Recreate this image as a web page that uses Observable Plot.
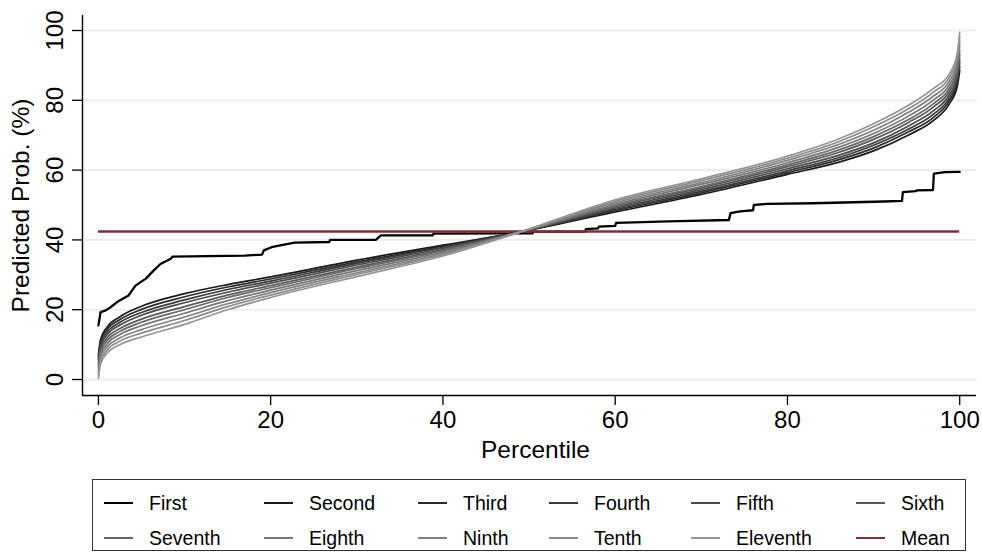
<!DOCTYPE html>
<html><head><meta charset="utf-8">
<script src="https://cdn.jsdelivr.net/npm/d3@7"></script>
<script src="https://cdn.jsdelivr.net/npm/@observablehq/plot@0.6"></script>
<style>
body{margin:0;background:#fff;font-family:"Liberation Sans",Arial,Helvetica,sans-serif;}
#wrap{position:relative;width:982px;height:559px;overflow:hidden;}
#legend{position:absolute;left:92px;top:479px;width:874px;height:72px;border:1.4px solid #333;box-sizing:border-box;}
.item{position:absolute;height:24px;display:flex;align-items:center;font-size:19.5px;line-height:24px;color:#000;white-space:nowrap;}
.swatch{width:29px;height:0;border-top:2px solid;margin-right:16px;}
</style></head>
<body><div id="wrap"><div id="chart"></div><div id="legend"></div></div>
<script>
// ---- data ----
const xTicks = [0, 20, 40, 60, 80, 100];
const yTicks = [0, 20, 40, 60, 80, 100];
const seriesNames = ["First","Second","Third","Fourth","Fifth","Sixth","Seventh","Eighth","Ninth","Tenth","Eleventh","Mean"];

const firstPct = [0,0.25,0.85,1.4,2.4,3.5,4.3,5.5,6.4,7.2,8.4,8.6,17.0,19.0,19.2,20.1,21.4,22.8,26.8,26.9,32.2,32.8,38.8,38.9,50.4,50.5,56.5,56.6,58.0,58.1,60.0,60.1,66.2,73.2,73.4,74.5,76.0,76.1,77.6,83.0,91.2,93.3,93.4,94.9,95.0,96.9,97.0,98.3,100];
const firstVal = [15.5,19.3,19.8,20.7,22.6,24.1,26.9,28.9,31.2,33.1,34.6,35.2,35.5,35.8,37.0,37.9,38.6,39.2,39.4,40.0,40.0,41.3,41.3,41.8,41.9,42.4,42.4,43.1,43.3,43.8,44.0,44.9,45.3,45.7,47.7,48.2,48.5,50.0,50.3,50.5,51.0,51.2,53.7,54.0,54.2,54.3,59.0,59.4,59.5];

const pct = [0,0.25,1,2.5,5,10,15,20,30,40,49,60,70,80,86,90,94,97,98.8,99.7,100];
const second   = [7.0,11.5,15.0,18.0,21.0,24.6,27.2,29.4,34.2,38.5,42.3,48.0,53.0,58.8,62.3,65.5,70.0,74.3,79.0,83.8,88.5];
const third    = [6.3,10.8,14.3,17.2,20.1,23.7,26.5,28.8,33.7,38.2,42.3,48.4,53.5,59.3,63.0,66.3,70.9,75.2,79.9,84.8,89.6];
const fourth   = [5.7,10.1,13.5,16.4,19.2,22.8,25.8,28.2,33.3,37.9,42.3,48.7,53.9,59.8,63.6,67.1,71.7,76.1,80.7,85.7,90.7];
const fifth    = [5.0,9.4,12.8,15.6,18.4,22.0,25.0,27.6,32.8,37.6,42.3,49.1,54.4,60.4,64.3,67.8,72.6,77.1,81.6,86.7,91.8];
const sixth    = [4.2,8.6,11.9,14.6,17.3,20.9,24.2,26.9,32.2,37.2,42.3,49.5,54.9,61.0,65.1,68.8,73.6,78.2,82.6,87.8,93.1];
const seventh  = [3.5,7.9,11.1,13.8,16.4,20.0,23.5,26.3,31.8,36.9,42.3,49.8,55.3,61.5,65.8,69.6,74.4,79.1,83.5,88.7,94.2];
const eighth   = [2.7,7.0,10.2,12.9,15.4,19.0,22.6,25.6,31.2,36.5,42.3,50.2,55.9,62.1,66.6,70.5,75.4,80.2,84.5,89.9,95.5];
const ninth    = [1.9,6.2,9.3,11.9,14.3,17.9,21.7,24.9,30.6,36.1,42.3,50.7,56.4,62.8,67.4,71.4,76.5,81.3,85.5,91.0,96.9];
const tenth    = [1.1,5.3,8.4,11.0,13.3,16.9,20.9,24.2,30.1,35.8,42.3,51.1,57.0,63.4,68.2,72.4,77.5,82.4,86.6,92.2,98.2];
const eleventh = [0.3,4.5,7.5,10.0,12.2,15.8,20.0,23.5,29.5,35.4,42.3,51.5,57.5,64.0,69.0,73.3,78.5,83.5,87.6,93.3,99.5];
const meanValue = 42.4;

// ---- styles ----
const palette = ["#000000","#1a1a1a","#2b2b2b","#3a3a3a","#4a4a4a","#5a5a5a","#686868","#767676","#828282","#8c8c8c","#969696","#8c2a33"];
const font = '"Liberation Sans", Arial, Helvetica, sans-serif';

const grayCurves = [second, third, fourth, fifth, sixth, seventh, eighth, ninth, tenth, eleventh];
const firstRows = firstPct.map((p, i) => ({p, v: firstVal[i]}));
const xDomain = [-1.85, 101.95];
const yDomain = [-4.58, 104.3];

const grayMarks = grayCurves.map((vals, k) =>
  Plot.line(pct.map((p, i) => ({p, v: vals[i]})), {x: "p", y: "v", stroke: palette[k + 1], strokeWidth: 1.7, curve: "monotone-x"})
);

const chart = Plot.plot({
  width: 982, height: 470,
  marginLeft: 82, marginRight: 6, marginTop: 15, marginBottom: 75,
  x: {domain: xDomain},
  y: {domain: yDomain},
  style: {fontFamily: font, color: "#000", background: "#fff", overflow: "visible"},
  marks: [
    Plot.gridY(yTicks, {stroke: "#e4eef2", strokeOpacity: 1, strokeWidth: 1.6}),
    Plot.axisY(yTicks, {tickSize: 10, tickRotate: -90, tickPadding: 10, fontSize: 24, label: null, strokeWidth: 1.3}),
    Plot.axisX(xTicks, {tickSize: 10, tickPadding: 5, fontSize: 24, label: null, strokeWidth: 1.3}),
    Plot.ruleX([xDomain[0]], {stroke: "#000", strokeWidth: 1.4}),
    Plot.ruleY([yDomain[0]], {stroke: "#000", strokeWidth: 1.4}),
    Plot.text(["Predicted Prob. (%)"], {text: d => d, frameAnchor: "left", rotate: -90, dx: -61, fontSize: 24.5, lineAnchor: "middle", textAnchor: "middle"}),
    Plot.text(["Percentile"], {text: d => d, frameAnchor: "bottom", dx: 6, dy: 55, fontSize: 24.5, lineAnchor: "middle", textAnchor: "middle"}),
    Plot.line(firstRows, {x: "p", y: "v", stroke: palette[0], strokeWidth: 2.3}),
    Plot.ruleY([meanValue], {x1: pct[0], x2: pct[pct.length - 1], stroke: palette[11], strokeWidth: 2.4}),
    ...grayMarks
  ]
});
document.getElementById("chart").appendChild(chart);

// ---- legend ----
const legendCols = [11, 171, 325, 456, 598, 763];
const legendRows = [11, 46];
const legend = document.getElementById("legend");
seriesNames.forEach((name, i) => {
  const el = document.createElement("div");
  el.className = "item";
  el.style.left = legendCols[i % 6] + "px";
  el.style.top = legendRows[Math.floor(i / 6)] + "px";
  const sw = document.createElement("span");
  sw.className = "swatch";
  sw.style.borderTopColor = palette[i];
  const tx = document.createElement("span");
  tx.textContent = name;
  el.appendChild(sw); el.appendChild(tx);
  legend.appendChild(el);
});
</script></body></html>
